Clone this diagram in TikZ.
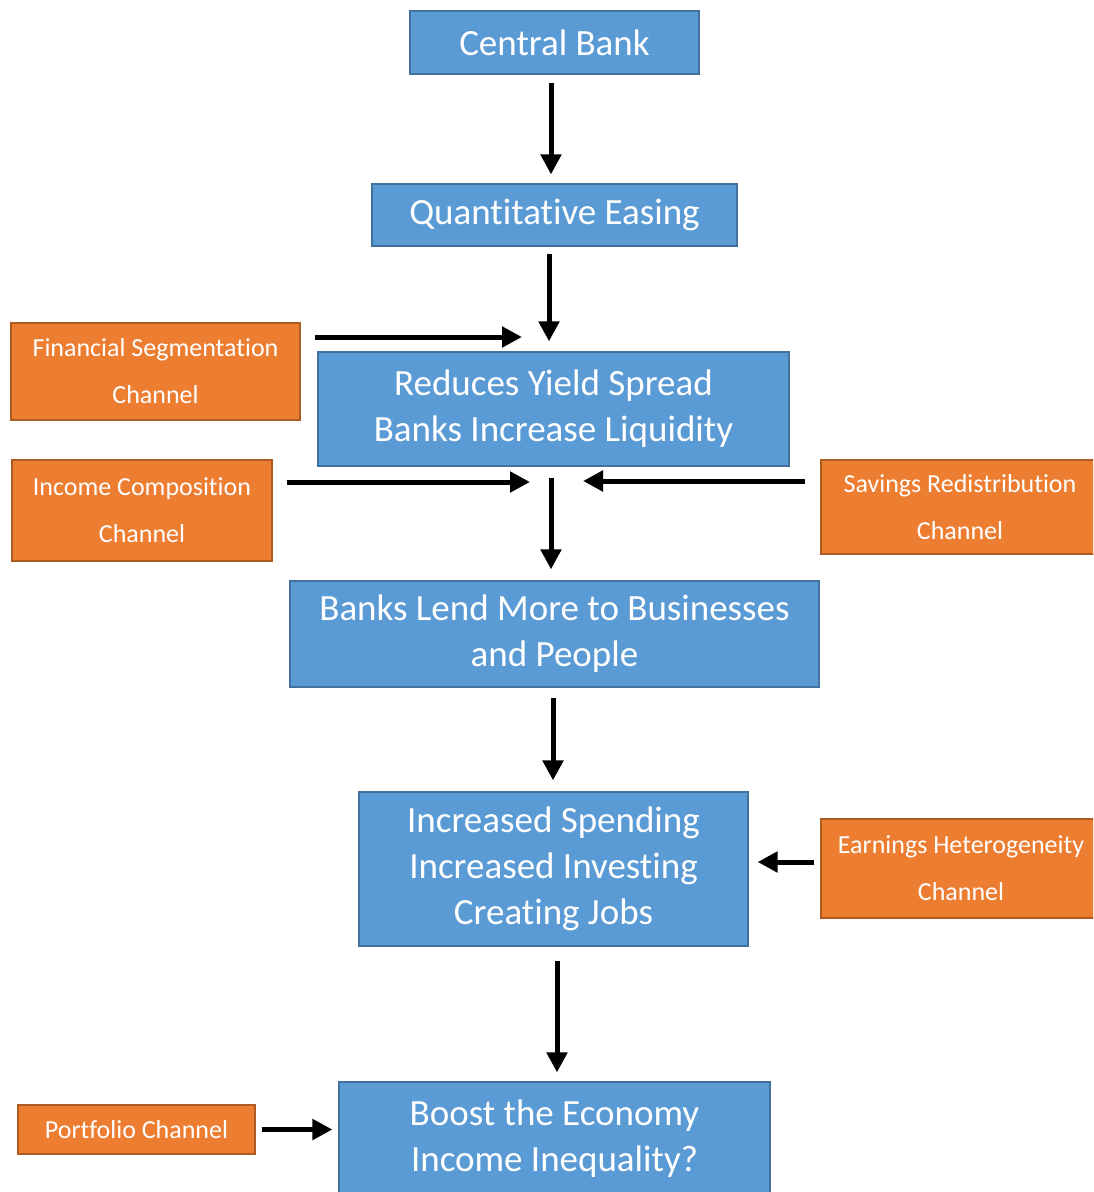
\documentclass[tikz,border=0pt]{standalone}
\usepackage{fontspec}
\setmainfont{Carlito}[Ligatures=CommonOff]
\usetikzlibrary{arrows.meta,positioning}
\definecolor{stagefill}{HTML}{5B9BD5}
\definecolor{stageline}{HTML}{41719C}
\definecolor{chanfill}{HTML}{ED7D31}
\definecolor{chanline}{HTML}{AE5A21}

\begin{document}
\begin{tikzpicture}[
    x=1pt, y=-1pt,
    stage/.style={rectangle, draw=stageline, fill=stagefill, line width=1.2pt, text=white, align=center, inner sep=0pt, font=\fontsize{37}{46}\selectfont},
    channel/.style={rectangle, draw=chanline, fill=chanfill, line width=1.2pt, text=white, align=center, inner sep=0pt, font=\fontsize{26}{47}\selectfont},
    flow/.style={-{Triangle[length=20pt,width=20pt]}, line width=5pt}
]
\clip (0,0) rectangle (1093,1192);

% main chain
\node[stage, minimum width=289pt, minimum height=63pt] (cb) at (554.5,42.5) {Central Bank};
\node[stage, minimum width=365pt, minimum height=62pt] (qe) at (554.5,215) {Quantitative Easing};
\node[stage, minimum width=471pt, minimum height=114pt] (yield) at (553.5,409) {Reduces Yield Spread\\Banks Increase Liquidity};
\node[stage, minimum width=529pt, minimum height=106pt] (lend) at (554.5,634) {Banks Lend More to Businesses\\and People};
\node[stage, minimum width=389pt, minimum height=154pt] (spend) at (553.5,869) {Increased Spending\\Increased Investing\\Creating Jobs};
\node[stage, minimum width=431pt, minimum height=114pt] (boost) at (554.5,1139) {Boost the Economy\\Income Inequality?};

% channels
\node[channel, minimum width=289pt, minimum height=97pt] (finseg) at (155.5,371.5) {Financial Segmentation\\Channel};
\node[channel, minimum width=260pt, minimum height=101pt] (incomp) at (142,510.5) {Income Composition\\Channel};
\node[channel, minimum width=278pt, minimum height=94pt] (savred) at (960,507) {Savings Redistribution\\Channel};
\node[channel, minimum width=280pt, minimum height=99pt] (earnhet) at (961,868.5) {Earnings Heterogeneity\\Channel};
\node[channel, minimum width=237pt, minimum height=49pt] (portf) at (136.5,1129.5) {Portfolio Channel};

% free ends of the side arrows
\coordinate (finsegin) at (522,337);
\coordinate (incompin) at (530,482);
\coordinate (savredin) at (583,481);

\draw[flow, shorten <=8pt, shorten >=9pt] ([xshift=-3.5pt]cb.south) -- ([xshift=-3.5pt]qe.north);
\draw[flow, shorten <=7pt, shorten >=10pt] ([xshift=-5.5pt]qe.south) -- ([xshift=-4.5pt]yield.north);
\draw[flow, shorten <=11pt, shorten >=11pt] ([xshift=-2.5pt]yield.south) -- ([xshift=-3.5pt]lend.north);
\draw[flow, shorten <=10pt, shorten >=11pt] ([xshift=-1.5pt]lend.south) -- ([xshift=-0.5pt]spend.north);
\draw[flow, shorten <=14pt, shorten >=9pt] ([xshift=3.5pt]spend.south) -- ([xshift=2.5pt]boost.north);

\draw[flow, shorten <=14pt] (finseg.east |- finsegin) -- (finsegin);
\draw[flow, shorten <=14pt] (incomp.east |- incompin) -- (incompin);
\draw[flow, shorten <=15pt] (savred.west |- savredin) -- (savredin);
\draw[flow, shorten <=6pt, shorten >=9pt] ([yshift=6.5pt]earnhet.west) -- (spend.east |- 0,862);
\draw[flow, shorten <=6pt, shorten >=6pt] (portf.east) -- (boost.west |- portf.east);
\end{tikzpicture}
\end{document}
